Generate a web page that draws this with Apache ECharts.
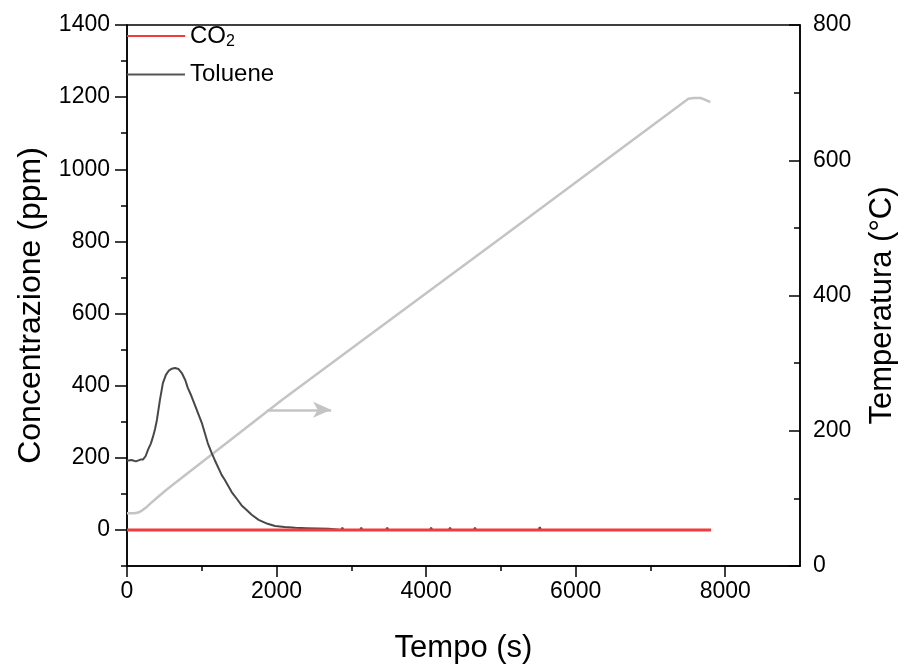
<!DOCTYPE html>
<html>
<head>
<meta charset="utf-8">
<script src="https://cdn.jsdelivr.net/npm/echarts@6/dist/echarts.min.js"></script>
<style>
  html, body { margin: 0; padding: 0; background: #fff; }
  #chart { width: 905px; height: 666px; }
</style>
</head>
<body>
<div id="chart"></div>
<script>
// Toluene concentration (ppm) vs time (s)
const tolueneTime = [0, 60, 120, 180, 213, 250, 280, 320, 347, 375, 400, 440, 480, 520, 560, 600, 640, 690, 733, 780, 813, 860, 907, 1000, 1080, 1133, 1173, 1267, 1307, 1400, 1480, 1533, 1600, 1667, 1760, 1880, 1980, 2107, 2250, 2400, 2550, 2700,
  2865, 2880, 2895, 3118, 3133, 3148, 3465, 3480, 3495, 4052, 4067, 4082, 4305, 4320, 4335, 4638, 4653, 4668, 5505, 5520, 5535, 5918, 5933, 5948, 6852, 6867, 6882, 7585, 7600, 7615, 7800];
const toluenePpm = [192, 194, 190, 195, 195, 205, 222, 240, 258, 280, 305, 360, 407, 430, 442, 447, 449, 446, 435, 415, 394, 372, 347, 297, 241, 213, 194, 152, 139, 105, 83, 68, 55, 42, 28, 17, 11, 8, 6, 5, 4, 3,
  0, 6, 0, 0, 6, 0, 0, 6, 0, 0, 6, 0, 0, 6, 0, 0, 6, 0, 0, 8, 0, 0, 5, 0, 0, 5, 0, 0, 5, 0, 0];

// CO2 concentration (ppm) vs time (s)
const co2Time = [0, 2000, 4000, 6000, 7810];
const co2Ppm = [0, 0, 0, 0, 0];

// Temperature (°C) vs time (s)
const tempTime = [0, 100, 150, 200, 260, 330, 413, 520, 600, 1133, 2067, 3200, 5000, 7507, 7580, 7670, 7720, 7800];
const tempC = [78, 78, 79, 82, 87, 94, 102, 112, 119, 165, 245, 338, 485, 691, 692, 692, 690, 686];

// Tick labels
const timeTicks = [0, 2000, 4000, 6000, 8000];
const timeMinorTicks = [1000, 3000, 5000, 7000];
const ppmTicks = [0, 200, 400, 600, 800, 1000, 1200, 1400];
const ppmMinorTicks = [-100, 100, 300, 500, 700, 900, 1100, 1300];

const pair = (xs, ys) => xs.map((x, i) => [x, ys[i]]);
const plain = v => String(v);

const FONT = 'Liberation Sans, Arial, sans-serif';
const AX = '#000';

const chart = echarts.init(document.getElementById('chart'), null, { renderer: 'canvas' });

chart.setOption({
  animation: false,
  backgroundColor: '#fff',
  grid: {
    left: 127, right: 105, top: 25, bottom: 100,
    outerBoundsMode: 'none', containLabel: false,
    show: true, borderColor: AX, borderWidth: 1.5, backgroundColor: 'transparent'
  },
  legend: {
    left: 127, top: 22, orient: 'vertical', padding: 0,
    itemWidth: 58, itemHeight: 2, itemGap: 12,
    icon: 'rect',
    data: ['CO2', 'Toluene'],
    formatter: name => name === 'CO2' ? '{m|CO}{s|2}' : '{m|' + name + '}',
    textStyle: {
      fontFamily: FONT, fontSize: 24, color: '#000', lineHeight: 25,
      rich: {
        m: { fontFamily: FONT, fontSize: 24, color: '#000', lineHeight: 25 },
        s: { fontFamily: FONT, fontSize: 16, color: '#000', lineHeight: 25, padding: [12, 0, 0, 0] }
      }
    }
  },
  xAxis: [
    {
      type: 'value', min: 0, max: 9000, position: 'bottom',
      name: 'Tempo (s)', nameLocation: 'middle', nameGap: 67,
      nameTextStyle: { fontFamily: FONT, fontSize: 31, color: '#000' },
      axisLine: { show: true, onZero: false, lineStyle: { color: AX, width: 1.5 } },
      axisTick: { show: true, length: 11, customValues: timeTicks, lineStyle: { color: AX, width: 1.5 } },
      axisLabel: { show: true, customValues: timeTicks, formatter: plain, margin: 14, fontFamily: FONT, fontSize: 23, color: '#000' },
      splitLine: { show: false }
    },
    {
      type: 'value', min: 0, max: 9000, position: 'bottom',
      axisLine: { show: false, onZero: false },
      axisTick: { show: true, length: 5, customValues: timeMinorTicks, lineStyle: { color: AX, width: 1.5 } },
      axisLabel: { show: false },
      splitLine: { show: false }
    }
  ],
  yAxis: [
    {
      type: 'value', min: -100, max: 1400, position: 'left',
      name: 'Concentrazione (ppm)', nameLocation: 'middle', nameGap: 80,
      nameTextStyle: { fontFamily: FONT, fontSize: 32, color: '#000', padding: [0, 20, 0, 0] },
      axisLine: { show: true, onZero: false, lineStyle: { color: AX, width: 1.5 } },
      axisTick: { show: true, length: 12, customValues: ppmTicks, lineStyle: { color: AX, width: 1.5 } },
      axisLabel: { show: true, customValues: ppmTicks, formatter: plain, margin: 17, fontFamily: FONT, fontSize: 23, color: '#000' },
      splitLine: { show: false }
    },
    {
      type: 'value', min: 0, max: 800, interval: 200, position: 'right',
      name: 'Temperatura (°C)', nameLocation: 'middle', nameGap: 67,
      nameTextStyle: { fontFamily: FONT, fontSize: 31, color: '#000', padding: [0, 20, 0, 0] },
      axisLine: { show: true, onZero: false, lineStyle: { color: AX, width: 1.5 } },
      axisTick: { show: true, inside: true, length: 11, lineStyle: { color: AX, width: 1.5 } },
      minorTick: { show: true, splitNumber: 2, length: 6, lineStyle: { color: AX, width: 1.5 } },
      axisLabel: { show: true, formatter: plain, margin: 13, fontFamily: FONT, fontSize: 23, color: '#000' },
      splitLine: { show: false }
    },
    {
      type: 'value', min: -100, max: 1400, position: 'left',
      axisLine: { show: false, onZero: false },
      axisTick: { show: true, length: 6, customValues: ppmMinorTicks, lineStyle: { color: AX, width: 1.5 } },
      axisLabel: { show: false },
      splitLine: { show: false }
    }
  ],
  series: [
    {
      name: 'Temperatura', type: 'line', xAxisIndex: 0, yAxisIndex: 1,
      data: pair(tempTime, tempC), showSymbol: false,
      lineStyle: { color: '#c4c4c4', width: 2.5 }, itemStyle: { color: '#c4c4c4' },
      markLine: {
        silent: true, symbol: ['none', 'arrow'], symbolSize: [12, 18],
        label: { show: false },
        lineStyle: { color: '#c4c4c4', width: 2.5, type: 'solid' },
        data: [[{ coord: [1870, 231] }, { coord: [2730, 231] }]]
      }
    },
    {
      name: 'Toluene', type: 'line', xAxisIndex: 0, yAxisIndex: 0,
      data: pair(tolueneTime, toluenePpm), showSymbol: false,
      lineStyle: { color: '#484848', width: 2 }, itemStyle: { color: '#555555' }
    },
    {
      name: 'CO2', type: 'line', xAxisIndex: 0, yAxisIndex: 0,
      data: pair(co2Time, co2Ppm), showSymbol: false,
      lineStyle: { color: '#f03c3c', width: 3 }, itemStyle: { color: '#f03c3c' }
    }
  ]
});
</script>
</body>
</html>
